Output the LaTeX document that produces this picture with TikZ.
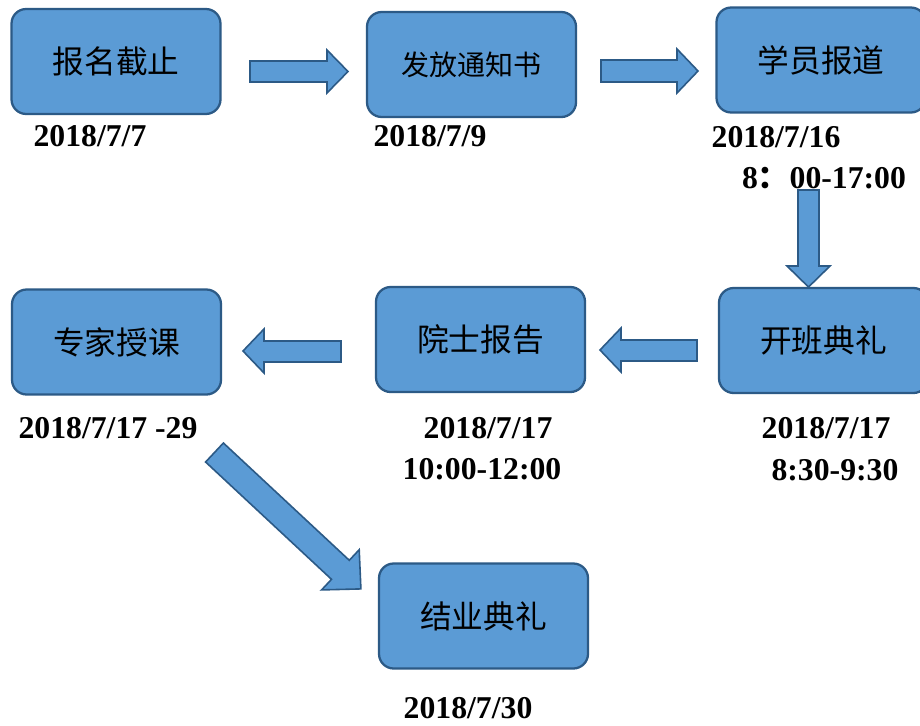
\documentclass[tikz,border=0pt]{standalone}
\usepackage{fontspec}
\setmainfont{Liberation Serif}
\newfontfamily\cjk{Noto Sans CJK SC}
\definecolor{boxfill}{HTML}{5B9BD5}
\definecolor{boxline}{HTML}{2C5A86}
\begin{document}
\begin{tikzpicture}[x=0.75pt,y=-0.75pt,
  stagebox/.style={draw=boxline, line width=1.7pt, fill=boxfill, rounded corners=11pt,
    minimum width=156.75pt, minimum height=78.75pt, inner sep=0pt,
    font=\cjk\fontsize{23.8}{28}\selectfont, text=black},
  datelabel/.style={inner sep=0pt, font=\bfseries\fontsize{23.8}{28}\selectfont},
  blockarrow/.style={draw=boxline, line width=1.2pt, fill=boxfill, line join=miter}]
\clip (0,0) rectangle (920,725);
\fill[white] (0,0) rectangle (920,725);

% stage boxes
\node[stagebox] (b1) at (116,61.5) {报名截止};
\node[stagebox, font=\cjk\fontsize{21}{25}\selectfont] (b2) at (471.5,64.5) {发放通知书};
\node[stagebox] (b3) at (821,60) {学员报道};
\node[stagebox] (b4) at (823.5,340.5) {开班典礼};
\node[stagebox] (b5) at (480.5,339.5) {院士报告};
\node[stagebox] (b6) at (116.5,342) {专家授课};
\node[stagebox] (b7) at (483.5,616) {结业典礼};

% dates
\node[datelabel] (d1) at (90,136) {2018/7/7};
\node[datelabel] (d2) at (430,136) {2018/7/9};
\node[datelabel] (d3) at (776,137) {2018/7/16};
\node[datelabel] (d3b) at (824,178) {8{\cjk ：}00-17:00};
\node[datelabel] (d4) at (826,428) {2018/7/17};
\node[datelabel] (d4b) at (835,470) {8:30-9:30};
\node[datelabel] (d5) at (488,428) {2018/7/17};
\node[datelabel] (d5b) at (482,469) {10:00-12:00};
\node[datelabel] (d6) at (108,428) {2018/7/17 -29};
\node[datelabel] (d7) at (468,708) {2018/7/30};

% block arrows
\draw[blockarrow] (250,61) -- (327,61) -- (327,50) -- (348,71.5) -- (327,93) -- (327,82) -- (250,82) -- cycle;
\draw[blockarrow] (601,60) -- (677,60) -- (677,49) -- (698,71) -- (677,93) -- (677,82) -- (601,82) -- cycle;
\draw[blockarrow] (798,190) -- (798,266) -- (787,266) -- (808.5,287) -- (830,266) -- (819,266) -- (819,190) -- cycle;
\draw[blockarrow] (697,340) -- (621,340) -- (621,328) -- (600,350) -- (621,372) -- (621,361) -- (697,361) -- cycle;
\draw[blockarrow] (341,341) -- (264,341) -- (264,329) -- (243,351) -- (264,373) -- (264,362) -- (341,362) -- cycle;
\draw[blockarrow] (223.4,443.0) -- (349.3,560.3) -- (359.2,549.7) -- (360.9,588.9) -- (321.6,589.9) -- (331.5,579.3) -- (205.6,462.0) -- cycle;
\end{tikzpicture}
\end{document}
